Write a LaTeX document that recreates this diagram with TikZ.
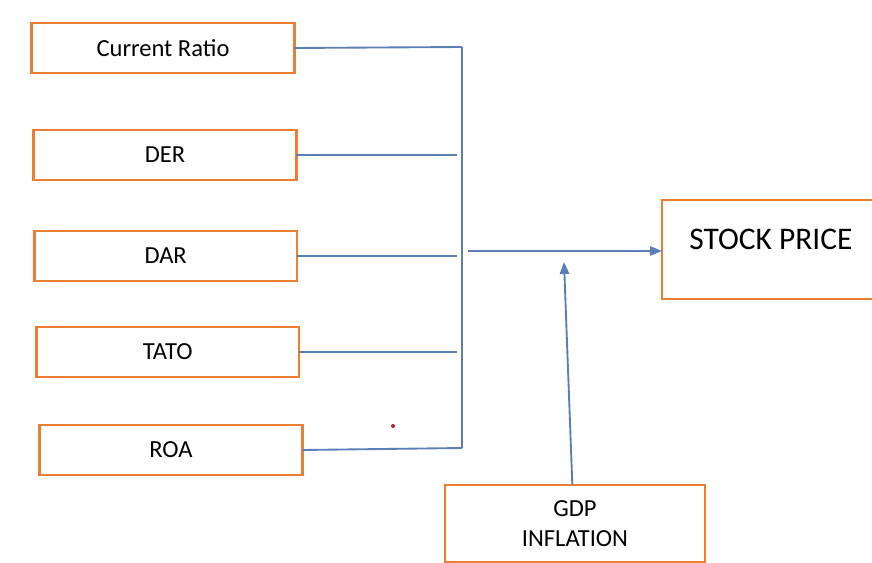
\documentclass[tikz,border=0pt]{standalone}
\usepackage{fontspec}
\setmainfont{Carlito}
\usetikzlibrary{positioning, arrows.meta}
\definecolor{boxorange}{HTML}{ED7D31}
\definecolor{linkblue}{HTML}{5B7DB8}
\definecolor{dotred}{HTML}{C0202A}

\begin{document}
\begin{tikzpicture}[
        x=0.75pt, y=-0.75pt,
        factor/.style={rectangle, draw=boxorange, line width=2.2pt, fill=white, minimum width=197pt, minimum height=37.5pt, inner sep=0pt, outer sep=0pt, align=center, font=\fontsize{18.4}{22.5}\selectfont},
        result/.style={rectangle, draw=boxorange, line width=2.2pt, fill=white, minimum width=163.5pt, text height=37.5pt, text depth=36.75pt, inner ysep=0pt, outer sep=0pt, align=center, font=\fontsize{23.6}{28}\selectfont},
        link/.style={draw=linkblue, line width=1.4pt},
        arrow/.style={link, -{Triangle[length=9pt, width=7pt]}}
    ]
    \useasboundingbox (0,0) rectangle (872,563);

    \node (cr) [factor] at (163,48) {Current Ratio};
    \node (der) [factor, below=42.75pt of cr, xshift=1.5pt] {DER};
    \node (dar) [factor, below=38.25pt of der, xshift=0.5pt] {DAR};
    \node (tato) [factor, below=34.5pt of dar, xshift=1.5pt] {TATO};
    \node (roa) [factor, below=36pt of tato, xshift=2.5pt] {ROA};

    \node (stock) [result, anchor=north west] at (662,200) {STOCK PRICE};
    \node (gdp) [factor, minimum width=195pt, minimum height=57.75pt] at (575,523.5) {GDP\\INFLATION};

    \node (dot) [circle, fill=dotred, inner sep=0pt, minimum size=3pt] at (393,426) {};

    \coordinate (top) at (462,47);
    \coordinate (bot) at (462,448);
    \coordinate (gap) at (457,0);
    \coordinate (hub) at (468,251);
    \coordinate (gdpin) at (564,262);

    \draw [link] (top) -- (bot);
    \draw [link] (cr.east) -- (top);
    \draw [link] (der.east) -- (der.east -| gap);
    \draw [link] (dar.east) -- (dar.east -| gap);
    \draw [link] (tato.east) -- (tato.east -| gap);
    \draw [link] (roa.east) -- (bot);
    \draw [arrow] (hub) -- (hub -| stock.west);
    \draw [arrow] ([xshift=-2pt]gdp.north) -- (gdpin);

    \end{tikzpicture}
\end{document}
